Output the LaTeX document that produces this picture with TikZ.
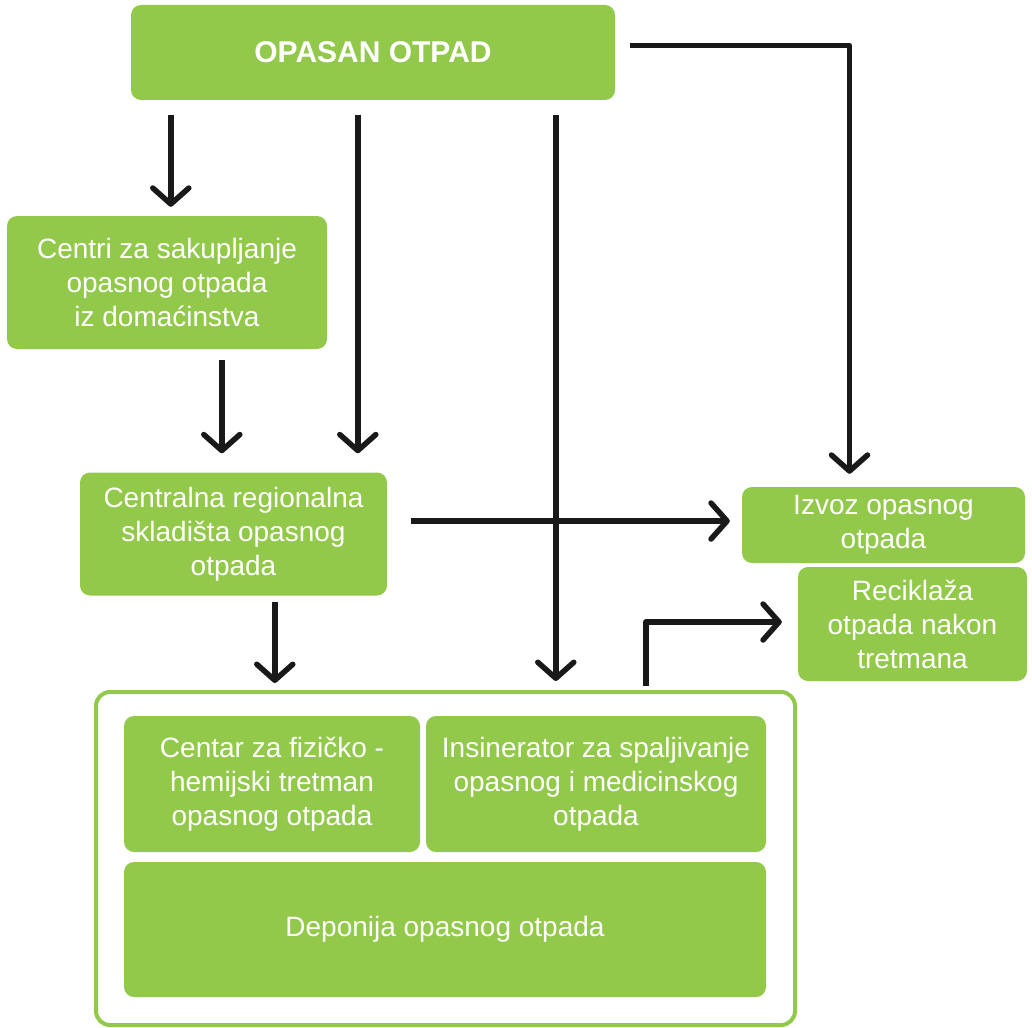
\documentclass[tikz,border=0pt]{standalone}
\usepackage{fontspec}
\setmainfont{Liberation Sans}
\usetikzlibrary{arrows.meta}
\definecolor{wastegreen}{RGB}{146,201,74}

\tikzset{
  box/.style={fill=wastegreen, rounded corners=10pt, text=white, align=center,
    inner sep=0pt, font=\fontsize{28}{34}\selectfont},
  arr/.style={line width=5.5pt, draw=black!90, line join=round,
    -{Straight Barb[length=16pt,width=36pt,round]}},
}

\begin{document}
\begin{tikzpicture}[x=1pt,y=-1pt]
\useasboundingbox (0,0) rectangle (1032,1027);
% boxes
\node[box, minimum width=484pt, minimum height=95pt, font=\bfseries\fontsize{30}{36}\selectfont]
  (otpad) at (373,52.5) {OPASAN OTPAD};
\node[box, minimum width=320pt, minimum height=133pt] (centri) at (167,282.5)
  {Centri za sakupljanje\\opasnog otpada\\iz domaćinstva};
\node[box, minimum width=307pt, minimum height=123pt] (skladista) at (233.5,534)
  {Centralna regionalna\\skladišta opasnog\\otpada};
\node[box, minimum width=283pt, minimum height=76pt] (izvoz) at (883.5,525)
  {Izvoz opasnog\\otpada};
\node[box, minimum width=229pt, minimum height=114pt] (reciklaza) at (912.5,624)
  {Reciklaža\\otpada nakon\\tretmana};
% container of the treatment facilities
\node[draw=wastegreen, line width=4pt, fill=white, rounded corners=14pt,
  minimum width=699pt, minimum height=333pt, inner sep=0pt] (tretman) at (445.5,858.5) {};
\node[box, minimum width=296pt, minimum height=136pt] (fizicko) at (272,784)
  {Centar za fizičko -\\hemijski tretman\\opasnog otpada};
\node[box, minimum width=340pt, minimum height=136pt] (insinerator) at (596,784)
  {Insinerator za spaljivanje\\opasnog i medicinskog\\otpada};
\node[box, minimum width=642pt, minimum height=135pt] (deponija) at (445,929.5)
  {Deponija opasnog otpada};
% arrows
\draw[arr, shorten <=15pt, shorten >=9pt] ([xshift=40pt]otpad.south west)
  -- ([xshift=40pt]otpad.south west |- centri.north);
\draw[arr, shorten <=15pt, shorten >=19pt] ([xshift=227pt]otpad.south west)
  -- ([xshift=227pt]otpad.south west |- skladista.north);
\draw[arr, shorten <=15pt, shorten >=9pt] ([xshift=425pt]otpad.south west)
  -- ([xshift=425pt]otpad.south west |- tretman.north);
\draw[arr, shorten <=15pt, shorten >=13pt] ([yshift=7pt]otpad.east)
  -| ([xshift=-34pt]izvoz.north);
\draw[arr, shorten <=11pt, shorten >=19pt] ([xshift=215pt]centri.south west)
  -- ([xshift=215pt]centri.south west |- skladista.north);
\draw[arr, shorten <=24pt, shorten >=12pt] ([yshift=4pt]skladista.east |- izvoz.west)
  -- ([yshift=4pt]izvoz.west);
\draw[arr, shorten <=6pt, shorten >=7pt] ([xshift=195pt]skladista.south west)
  -- ([xshift=195pt]skladista.south west |- tretman.north);
\draw[arr, shorten <=4pt, shorten >=16pt] ([xshift=552pt]tretman.north west)
  |- ([yshift=2pt]reciklaza.west);
\end{tikzpicture}
\end{document}
